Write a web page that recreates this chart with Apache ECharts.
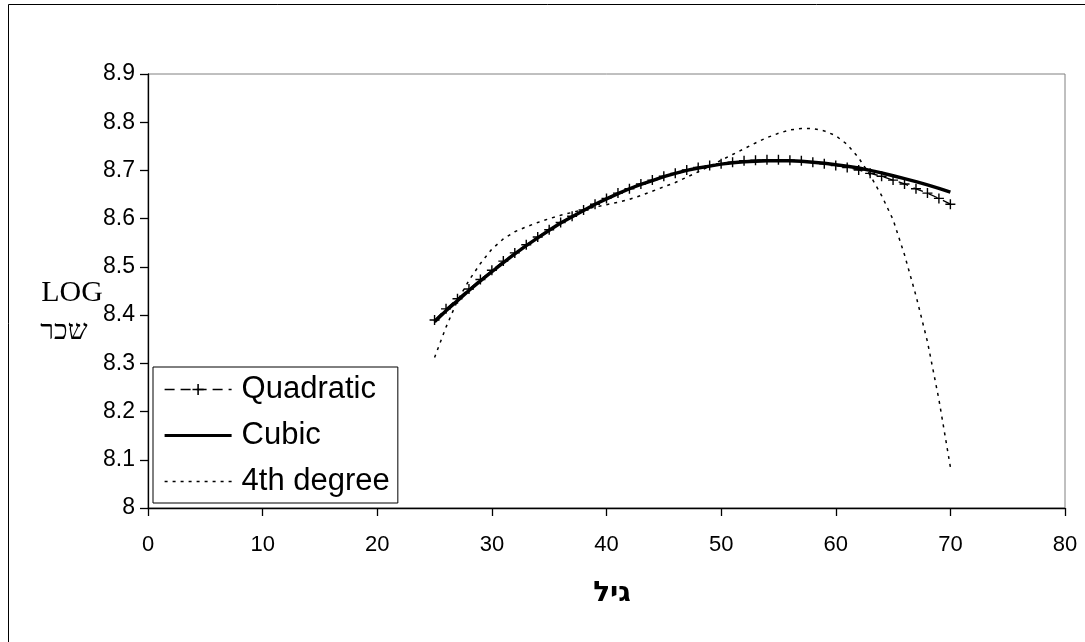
<!DOCTYPE html>
<html>
<head>
<meta charset="utf-8">
<script src="https://cdn.jsdelivr.net/npm/echarts@6/dist/echarts.min.js"></script>
<style>
html,body{margin:0;padding:0;background:#fff;}
#chart{width:1085px;height:642px;}
</style>
</head>
<body>
<div id="chart"></div>
<script>
// Data
const ages = [25,26,27,28,29,30,31,32,33,34,35,36,37,38,39,40,41,42,43,44,45,46,47,48,49,50,51,52,53,54,55,56,57,58,59,60,61,62,63,64,65,66,67,68,69,70];
const quadratic = [8.390,8.413,8.434,8.454,8.474,8.493,8.512,8.529,8.546,8.562,8.577,8.592,8.605,8.618,8.630,8.642,8.653,8.662,8.672,8.680,8.688,8.694,8.701,8.706,8.710,8.714,8.717,8.720,8.721,8.722,8.722,8.721,8.720,8.717,8.714,8.710,8.706,8.701,8.694,8.688,8.680,8.672,8.662,8.653,8.642,8.630];
const cubic = [8.386,8.409,8.430,8.451,8.471,8.490,8.509,8.527,8.544,8.560,8.576,8.591,8.604,8.617,8.630,8.641,8.652,8.662,8.671,8.679,8.687,8.694,8.700,8.705,8.709,8.713,8.716,8.718,8.719,8.720,8.720,8.720,8.719,8.717,8.715,8.712,8.709,8.705,8.700,8.695,8.689,8.683,8.677,8.670,8.663,8.655];
const fourth = [8.312,8.375,8.430,8.472,8.507,8.537,8.558,8.573,8.583,8.592,8.600,8.607,8.613,8.619,8.624,8.629,8.634,8.640,8.648,8.657,8.666,8.675,8.686,8.697,8.709,8.721,8.733,8.745,8.757,8.768,8.777,8.784,8.787,8.787,8.782,8.772,8.754,8.726,8.690,8.648,8.598,8.525,8.440,8.345,8.225,8.085];
const seriesNames = ['Quadratic','Cubic','4th degree'];
const xTicks = {min:0, max:80, step:10};
const yTicks = {min:8, max:8.9, step:0.1};

const pair = (xs, ys) => xs.map((x,i)=>[x, ys[i]]);
const plusPath = 'path://M4.3,0h1.4v4.3h4.3v1.4h-4.3v4.3h-1.4v-4.3h-4.3v-1.4h4.3z';
const sans = '"Liberation Sans", Arial, "DejaVu Sans", sans-serif';

const chart = echarts.init(document.getElementById('chart'), null, {renderer:'canvas'});
chart.setOption({
  animation:false,
  backgroundColor:'#fff',
  grid:{left:148, right:20, top:74, bottom:134, show:true, borderColor:'#808080', borderWidth:1, backgroundColor:'transparent'},
  xAxis:{
    type:'value', min:xTicks.min, max:xTicks.max, interval:xTicks.step,
    axisLine:{show:true, onZero:false, lineStyle:{color:'#000', width:1.3}},
    axisTick:{show:true, inside:false, length:8, lineStyle:{color:'#000', width:1.3}},
    axisLabel:{color:'#000', fontSize:22, fontFamily:sans, margin:26},
    splitLine:{show:false}
  },
  yAxis:{
    type:'value', min:yTicks.min, max:yTicks.max, interval:yTicks.step,
    axisLine:{show:true, onZero:false, lineStyle:{color:'#000', width:1.3}},
    axisTick:{show:true, inside:false, length:8, lineStyle:{color:'#000', width:1.3}},
    axisLabel:{color:'#000', fontSize:23, fontFamily:sans, margin:13,
      formatter:v=>{const s=v.toFixed(1); return s.endsWith('.0')? s.slice(0,-2): s;}},
    splitLine:{show:false}
  },
  legend:{
    orient:'vertical', left:153, top:367,
    itemWidth:67, itemHeight:14, itemGap:15,
    padding:[7,8,6,10],
    borderColor:'#000', borderWidth:1, backgroundColor:'#fff',
    textStyle:{color:'#000', fontSize:31, fontFamily:sans, padding:[0,0,0,5]},
    data:[
      {name:seriesNames[0], lineStyle:{width:1.5, type:[10,6]}},
      {name:seriesNames[1], itemStyle:{opacity:0}, lineStyle:{width:3.2}},
      {name:seriesNames[2], itemStyle:{opacity:0}, lineStyle:{width:1.5, type:[3,5]}}
    ]
  },
  series:[
    {name:seriesNames[0], type:'line', data:pair(ages, quadratic),
     symbol:plusPath, symbolSize:10, showSymbol:true,
     itemStyle:{color:'#000'},
     lineStyle:{color:'#000', width:1.3, type:[10,6]}, z:2},
    {name:seriesNames[1], type:'line', data:pair(ages, cubic),
     symbol:'none', showSymbol:false,
     itemStyle:{color:'#000'},
     lineStyle:{color:'#000', width:3.4, type:'solid'}, z:3},
    {name:seriesNames[2], type:'line', data:pair(ages, fourth),
     symbol:'none', showSymbol:false,
     itemStyle:{color:'#000'},
     lineStyle:{color:'#000', width:1.5, type:[3,5]}, z:4}
  ],
  graphic:[
    {type:'rect', silent:true, shape:{x:8.5, y:4.5, width:1200, height:800},
     style:{fill:'none', stroke:'#000', lineWidth:1}, z:-10},
    {type:'text', x:72, y:293, style:{text:'LOG', fill:'#000',
      font:'30px "Liberation Serif", "Times New Roman", serif', textAlign:'center', textVerticalAlign:'middle'}},
    {type:'text', x:64, y:332, style:{text:'שכר', fill:'#000',
      font:'28px "DejaVu Serif", "Liberation Serif", "DejaVu Sans", serif', textAlign:'center', textVerticalAlign:'middle'}},
    {type:'text', x:612, y:594, style:{text:'גיל', fill:'#000',
      font:'bold 28px "DejaVu Sans", "Liberation Sans", sans-serif', textAlign:'center', textVerticalAlign:'middle'}}
  ]
});
</script>
</body>
</html>
